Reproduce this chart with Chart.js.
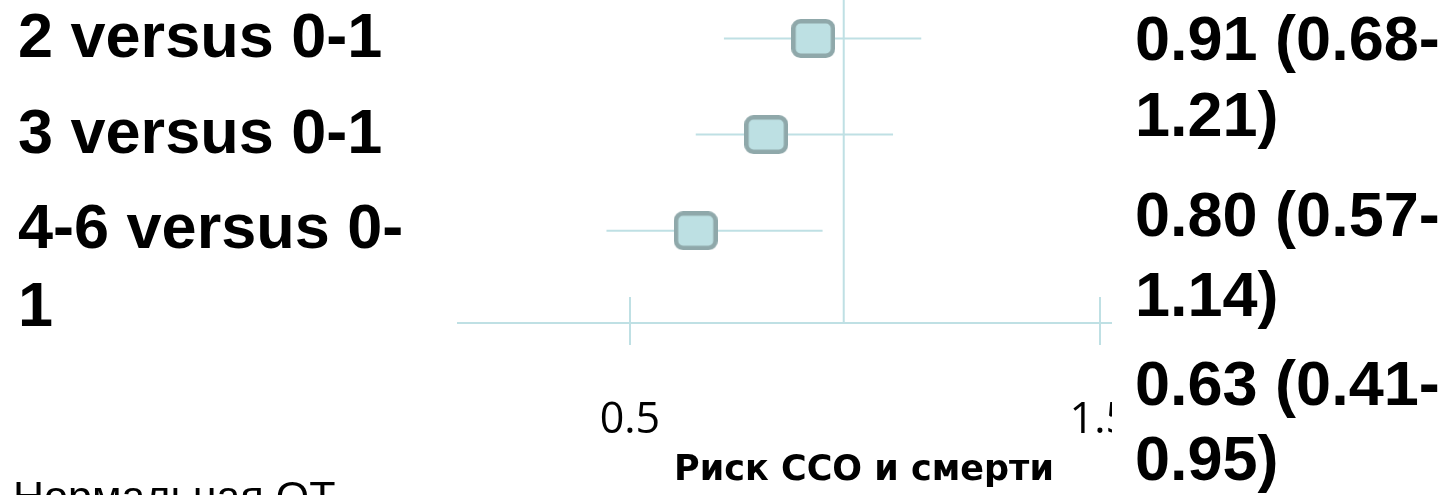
<!DOCTYPE html>
<html>
<head>
<meta charset="utf-8">
<script src="https://cdn.jsdelivr.net/npm/chart.js@4"></script>
<style>
  html, body { margin: 0; padding: 0; background: #fff; width: 1450px; height: 495px; overflow: hidden; }
  #wrap { position: relative; width: 1450px; height: 495px; }
  #chart { position: absolute; left: 0; top: 0; }
  .big { position: absolute; font-family: "Liberation Sans", Arial, sans-serif; font-weight: bold; font-size: 63px; line-height: 63px; color: #000; white-space: nowrap; }
  #rightBox { position: absolute; left: 1112px; top: 0; width: 338px; height: 495px; background: #fff; }
  #note { position: absolute; left: 13px; top: 475px; font-family: "Liberation Sans", Arial, sans-serif; font-size: 43px; line-height: 43px; color: #000; white-space: nowrap; }
  #xtitle { position: absolute; top: 451px; left: 864px; transform: translateX(-50%); font-family: "DejaVu Sans", sans-serif; font-weight: bold; font-size: 35px; line-height: 35px; color: #000; white-space: nowrap; }
</style>
</head>
<body>
<div id="wrap">
  <canvas id="chart" width="1450" height="495"></canvas>
  <div id="rightBox"></div>
  <div id="labels"></div>
  <div id="xtitle"></div>
  <div id="note"></div>
</div>
<script>
// ---- data ----
const rowLabelLines = ["2 versus 0-1", "3 versus 0-1", "4-6 versus 0-", "1"];
const ciLabelLines = ["0.91 (0.68-", "1.21)", "0.80 (0.57-", "1.14)", "0.63 (0.41-", "0.95)"];
const categories = ["2 versus 0-1", "3 versus 0-1", "4-6 versus 0-1"];
const pointEstimates = [0.89, 0.79, 0.64];
const lowerBounds = [0.70, 0.64, 0.45];
const upperBounds = [1.12, 1.06, 0.91];
const referenceValue = 0.955;
const tickValues = [0.5, 1.5];
const axisTitle = "Риск ССО и смерти";
const noteText = "Нормальная QT";

// ---- layout / style ----
const lineColor = "#bfe0e4";
const markerFill = "#bde0e3";
const markerBorder = "#8fa8aa";
const xMin = 0.134, xMax = 1.526;
const yMin = 0.6, yMax = 3.96;
const leftBaselines = [57, 153, 248, 326];
const rightBaselines = [60, 136, 236, 316, 405, 480];
const bigAscent = 63 * (0.905 - 0.0585);

const labelsDiv = document.getElementById("labels");
rowLabelLines.forEach((t, i) => {
  const d = document.createElement("div");
  d.className = "big";
  d.style.left = "18px";
  d.style.top = (leftBaselines[i] - bigAscent) + "px";
  d.textContent = t;
  labelsDiv.appendChild(d);
});
ciLabelLines.forEach((t, i) => {
  const d = document.createElement("div");
  d.className = "big";
  d.style.left = "1135px";
  d.style.top = (rightBaselines[i] - bigAscent) + "px";
  d.textContent = t;
  labelsDiv.appendChild(d);
});
document.getElementById("xtitle").textContent = axisTitle;
document.getElementById("note").textContent = noteText;

// rounded-square marker
function makeMarker() {
  const c = document.createElement("canvas");
  c.width = 44; c.height = 39;
  const g = c.getContext("2d");
  g.fillStyle = markerFill;
  g.strokeStyle = markerBorder;
  g.lineWidth = 4.5;
  g.beginPath();
  g.roundRect(2.25, 2.25, 39.5, 34.5, 7);
  g.fill();
  g.stroke();
  return c;
}
const marker = makeMarker();

const rowIndex = categories.map((_, i) => i + 1);

const datasets = [];
// reference line
datasets.push({
  data: [{x: referenceValue, y: yMin}, {x: referenceValue, y: yMax}],
  showLine: true, borderColor: lineColor, borderWidth: 2, pointRadius: 0, order: 3
});
// whiskers
categories.forEach((c, i) => {
  datasets.push({
    data: [{x: lowerBounds[i], y: rowIndex[i]}, {x: upperBounds[i], y: rowIndex[i]}],
    showLine: true, borderColor: lineColor, borderWidth: 2, pointRadius: 0, order: 2
  });
});
// point estimates
datasets.push({
  data: pointEstimates.map((v, i) => ({x: v, y: rowIndex[i]})),
  showLine: false, pointStyle: marker, pointRadius: 20, order: 1
});

const upperTicks = {
  id: "upperTicks",
  afterDatasetsDraw(chart) {
    const s = chart.scales.x;
    const ctx = chart.ctx;
    ctx.save();
    ctx.strokeStyle = lineColor;
    ctx.lineWidth = 2;
    tickValues.forEach(v => {
      const px = Math.round(s.getPixelForValue(v));
      ctx.beginPath();
      ctx.moveTo(px, s.top - 26);
      ctx.lineTo(px, s.top);
      ctx.stroke();
    });
    ctx.restore();
  }
};

new Chart(document.getElementById("chart"), {
  type: "scatter",
  data: { datasets },
  plugins: [upperTicks],
  options: {
    responsive: false,
    animation: false,
    events: [],
    layout: { autoPadding: false, padding: { left: 458, right: 338, top: 0, bottom: 0 } },
    plugins: { legend: { display: false }, tooltip: { enabled: false } },
    scales: {
      x: {
        type: "linear", min: xMin, max: xMax,
        afterBuildTicks: s => { s.ticks = tickValues.map(v => ({ value: v })); },
        afterFit: s => { s.height = 172; },
        grid: { drawOnChartArea: false, drawTicks: true, tickLength: 22, color: lineColor, lineWidth: 2 },
        border: { display: true, color: lineColor, width: 2 },
        ticks: {
          padding: 50, color: "#000",
          font: { family: "'Open Sans'", size: 43 },
          callback: v => String(v)
        }
      },
      y: {
        type: "linear", min: yMin, max: yMax, reverse: true, display: false
      }
    }
  }
});
</script>
</body>
</html>
